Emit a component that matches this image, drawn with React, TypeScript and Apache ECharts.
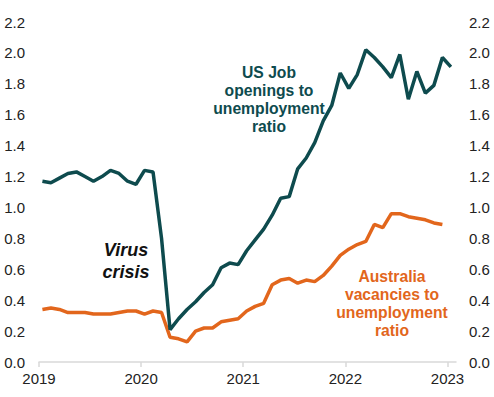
import React, { useEffect, useRef } from "react";
import * as echarts from "echarts";

// Monthly observations, Jan 2019 onward
const startYear = 2019;
const yearTicks = [2019, 2020, 2021, 2022, 2023];

// US job openings to unemployment ratio, Jan 2019 - Jan 2023
const usJobRatio = [
  1.17, 1.16, 1.19, 1.22, 1.23, 1.2, 1.17, 1.2, 1.24, 1.22, 1.17, 1.15,
  1.24, 1.23, 0.8, 0.21, 0.28, 0.34, 0.39, 0.45, 0.5, 0.61, 0.64, 0.63,
  0.72, 0.79, 0.86, 0.95, 1.06, 1.07, 1.25, 1.32, 1.42, 1.56, 1.66, 1.87,
  1.77, 1.86, 2.02, 1.97, 1.91, 1.84, 1.99, 1.7, 1.88, 1.74, 1.79, 1.97,
  1.91,
];

// Australia vacancies to unemployment ratio, Jan 2019 - Dec 2022
const ausVacancyRatio = [
  0.34, 0.35, 0.34, 0.32, 0.32, 0.32, 0.31, 0.31, 0.31, 0.32, 0.33, 0.33,
  0.31, 0.33, 0.32, 0.16, 0.15, 0.13, 0.2, 0.22, 0.22, 0.26, 0.27, 0.28,
  0.33, 0.36, 0.38, 0.5, 0.53, 0.54, 0.51, 0.53, 0.52, 0.56, 0.62, 0.69,
  0.73, 0.76, 0.78, 0.89, 0.87, 0.96, 0.96, 0.94, 0.93, 0.92, 0.9, 0.89,
];

const US_COLOR = "#0E4B4E";
const AU_COLOR = "#E2661C";
const FONT = "Liberation Sans";

// month index -> x position (observations sit a little into the month)
const toPoints = (vals: number[]) => vals.map((v, i) => [i + 0.4, v]);

export default function App() {
  const ref = useRef<HTMLDivElement>(null);

  useEffect(() => {
    if (!ref.current) return;
    const chart = echarts.init(ref.current, null, { renderer: "svg" });
    const tickMonths = yearTicks.map((y) => (y - startYear) * 12);
    const yLabel = {
      fontSize: 15,
      color: "#222",
      fontFamily: FONT,
      formatter: (v: number) => v.toFixed(1),
    };
    chart.setOption({
      animation: false,
      grid: { left: 39, right: 38, top: 22, bottom: 35 },
      xAxis: {
        type: "value",
        min: 0,
        max: 49,
        axisLine: { show: true, lineStyle: { color: "#d9d9d9", width: 1.5 } },
        axisTick: {
          show: true,
          customValues: tickMonths,
          length: 5,
          lineStyle: { color: "#d9d9d9", width: 1.5 },
        },
        axisLabel: {
          customValues: tickMonths,
          formatter: (v: number) => String(startYear + Math.round(v / 12)),
          fontSize: 15,
          color: "#222",
          fontFamily: FONT,
          margin: 9,
        },
        splitLine: { show: false },
      },
      yAxis: [
        {
          type: "value",
          min: 0,
          max: 2.2,
          interval: 0.2,
          position: "left",
          axisLine: { show: false },
          axisTick: { show: false },
          splitLine: { show: false },
          axisLabel: { ...yLabel, margin: 14 },
        },
        {
          type: "value",
          min: 0,
          max: 2.2,
          interval: 0.2,
          position: "right",
          axisLine: { show: false },
          axisTick: { show: false },
          splitLine: { show: false },
          axisLabel: { ...yLabel, margin: 13 },
        },
      ],
      series: [
        {
          name: "Australia",
          type: "line",
          yAxisIndex: 0,
          data: toPoints(ausVacancyRatio),
          showSymbol: false,
          symbol: "none",
          lineStyle: { color: AU_COLOR, width: 3.5 },
          z: 2,
        },
        {
          name: "US",
          type: "line",
          yAxisIndex: 0,
          data: toPoints(usJobRatio),
          showSymbol: false,
          symbol: "none",
          lineStyle: { color: US_COLOR, width: 3.5 },
          z: 3,
        },
      ],
      graphic: [
        {
          type: "text",
          x: 269,
          y: 99,
          style: {
            text: "US Job\nopenings to\nunemployment\nratio",
            fill: US_COLOR,
            fontSize: 15.7,
            fontWeight: "bold",
            fontFamily: FONT,
            align: "center",
            verticalAlign: "middle",
            lineHeight: 18,
          },
        },
        {
          type: "text",
          x: 126,
          y: 261,
          style: {
            text: "Virus\ncrisis",
            fill: "#111",
            fontSize: 18,
            fontWeight: "bold",
            fontStyle: "italic",
            fontFamily: FONT,
            align: "center",
            verticalAlign: "middle",
            lineHeight: 22,
          },
        },
        {
          type: "text",
          x: 392,
          y: 303,
          style: {
            text: "Australia\nvacancies to\nunemployment\nratio",
            fill: AU_COLOR,
            fontSize: 15.7,
            fontWeight: "bold",
            fontFamily: FONT,
            align: "center",
            verticalAlign: "middle",
            lineHeight: 18,
          },
        },
      ],
    });
    return () => chart.dispose();
  }, []);

  return (
    <div
      ref={ref}
      style={{ position: "fixed", left: 0, top: 0, width: 494, height: 397, background: "#fff" }}
    />
  );
}
